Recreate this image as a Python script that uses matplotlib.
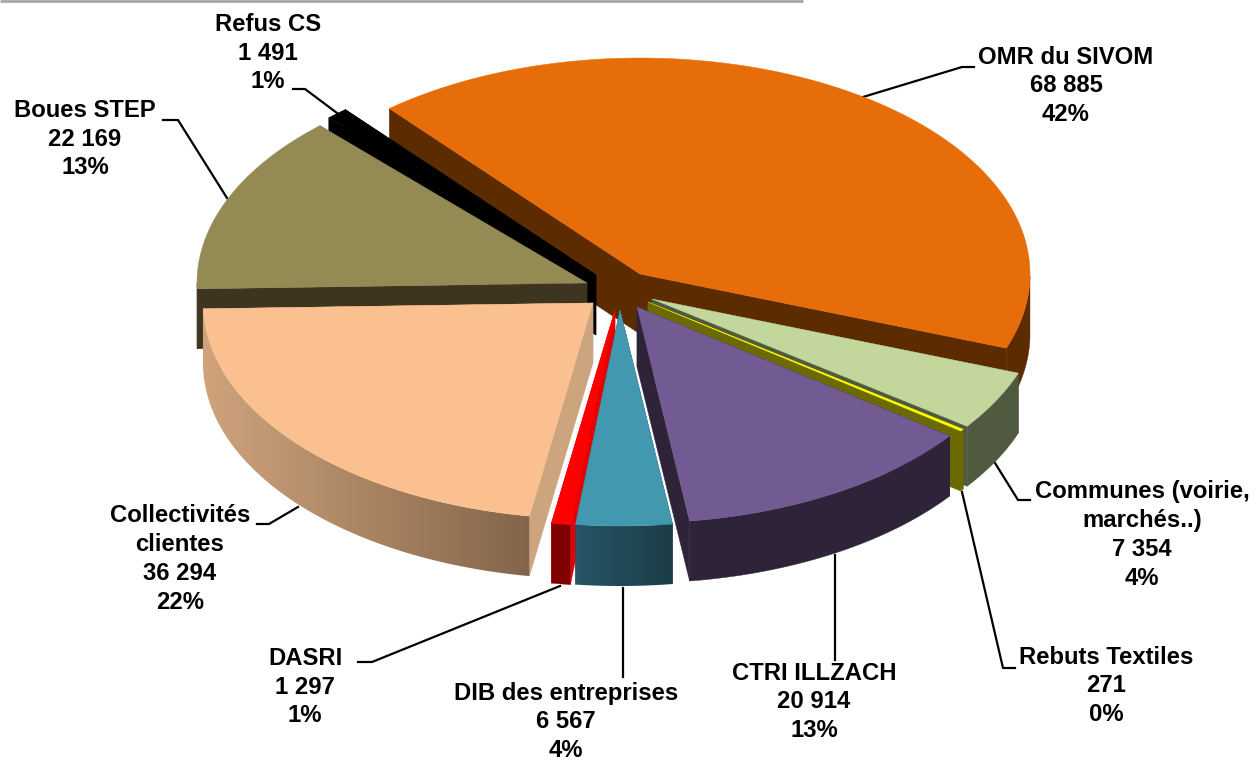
import numpy as np
import matplotlib
matplotlib.use('Agg')
import matplotlib.pyplot as plt
from matplotlib.colors import to_rgb
from matplotlib.patches import Polygon

plt.rcParams['font.family'] = ['Liberation Sans', 'DejaVu Sans']

names = ['OMR du SIVOM', 'Communes (voirie,\nmarchés..)', 'Rebuts Textiles', 'CTRI ILLZACH',
         'DIB des entreprises', 'DASRI', 'Collectivités\nclientes', 'Boues STEP', 'Refus CS']
values = [68885, 7354, 271, 20914, 6567, 1297, 36294, 22169, 1491]

# slice styling, same order as values
top_colors = ['#e76d0a', '#c3d69b', '#ffff00', '#725a92', '#4198af', '#ff0000', '#fbc08f', '#948a54', '#000000']
cut_colors = ['#5c2c00', '#4f5a40', '#6b6a00', '#2e2338', '#1f4855', '#e80000', '#cca57f', '#3d3520', '#000000']
wall_left = ['#5c2c00', '#4f5a40', '#6b6a00', '#2e2338', '#265566', '#800000', '#cfa47c', '#3d3520', '#000000']
wall_right = ['#5c2c00', '#4f5a40', '#6b6a00', '#2e2338', '#1b3d47', '#800000', '#84654a', '#3d3520', '#000000']
apex_x = [640, 652, 648, 637, 620, 615, 593, 587, 596]
apex_y = [274, 299, 302, 307, 310, 310, 303, 283, 275]
draw_order = [0, 1, 2, 8, 7, 3, 6, 5, 4]

rim_x = 390
rim_y = 216
depth = 60
start_angle = -40

label_x = [1066, 1142, 1106, 814, 566, 305, 180, 85, 268]
label_y = [86, 535, 686, 702, 722, 687, 559, 139, 53]
leader_lines = [
    [(974, 67), (962, 67), (863, 97)],
    [(1030, 500), (1018, 500), (995, 463)],
    [(1015, 668), (1003, 668), (962, 492)],
    [(835, 660), (835, 555)],
    [(623, 677), (623, 588)],
    [(358, 662), (372, 662), (560, 586)],
    [(257, 524), (269, 524), (298, 507)],
    [(163, 120), (178, 120), (227, 198)],
    [(293, 89), (305, 89), (337, 113)],
]


def rim_point(cx, cy, angle):
    rad = np.radians(angle)
    return cx + rim_x * np.sin(rad), cy - rim_y * np.cos(rad)


def draw_wall(ax, i, xs, ys, z):
    """Outer wall of a slice, with a left to right gradient when the two colours differ."""
    outline = list(zip(xs, ys)) + list(zip(xs[::-1], ys[::-1] + depth))
    if wall_left[i] == wall_right[i]:
        ax.add_patch(Polygon(outline, closed=True, fc=wall_left[i], ec=wall_left[i], lw=0.3, zorder=z))
        return
    clip = Polygon(outline, closed=True, fc='none', ec='none', zorder=z)
    ax.add_patch(clip)
    left, right = np.array(to_rgb(wall_left[i])), np.array(to_rgb(wall_right[i]))
    ramp = np.linspace(0, 1, 256)[None, :, None]
    img = ax.imshow(left + (right - left) * ramp, aspect='auto', interpolation='bilinear', zorder=z,
                    extent=[xs.min(), xs.max(), (ys + depth).max(), ys.min()])
    img.set_clip_path(clip)


def draw_slice(ax, i, a0, a1, z):
    cx, cy = apex_x[i], apex_y[i]
    angles = np.linspace(a0, a1, max(int((a1 - a0) * 2), 2))
    xs, ys = rim_point(cx, cy, angles)

    # the two cut faces hanging under the straight edges
    for x, y in [(xs[0], ys[0]), (xs[-1], ys[-1])]:
        face = [(cx, cy), (cx, cy + depth), (x, y + depth), (x, y)]
        ax.add_patch(Polygon(face, closed=True, fc=cut_colors[i], ec=cut_colors[i], lw=0.3, zorder=z))

    # only the front half of the rim shows
    front = (angles >= 90) & (angles <= 270)
    if front.sum() > 1:
        draw_wall(ax, i, xs[front], ys[front], z + 0.1)

    top = [(cx, cy)] + list(zip(xs, ys))
    ax.add_patch(Polygon(top, closed=True, fc=top_colors[i], ec=top_colors[i], lw=0.3, zorder=z + 0.2))


def label_text(name, value, total):
    number = f'{value:,}'.replace(',', ' ')
    return f'{name}\n{number}\n{round(100 * value / total)}%'


fig = plt.figure(figsize=(12.56, 7.6), dpi=100)
ax = fig.add_axes([0, 0, 1, 1])
ax.axis('off')

total = sum(values)
spans = np.array(values) / total * 360
starts = start_angle + np.concatenate([[0], np.cumsum(spans)[:-1]])

ax.plot([0, 803], [1, 1], color='#a6a6a6', lw=2, solid_capstyle='butt')

for line in leader_lines:
    ax.plot([p[0] for p in line], [p[1] for p in line], color='black', lw=1.6, zorder=1)

for k, i in enumerate(draw_order):
    draw_slice(ax, i, starts[i], starts[i] + spans[i], 2 + k)

for i in range(len(values)):
    ax.text(label_x[i], label_y[i], label_text(names[i], values[i], total), ha='center', va='center',
            fontsize=17.2, fontweight='bold', linespacing=1.33, color='black', zorder=20)

ax.set_xlim(0, 1256)
ax.set_ylim(760, 0)

fig.savefig('out.png', dpi=100)
